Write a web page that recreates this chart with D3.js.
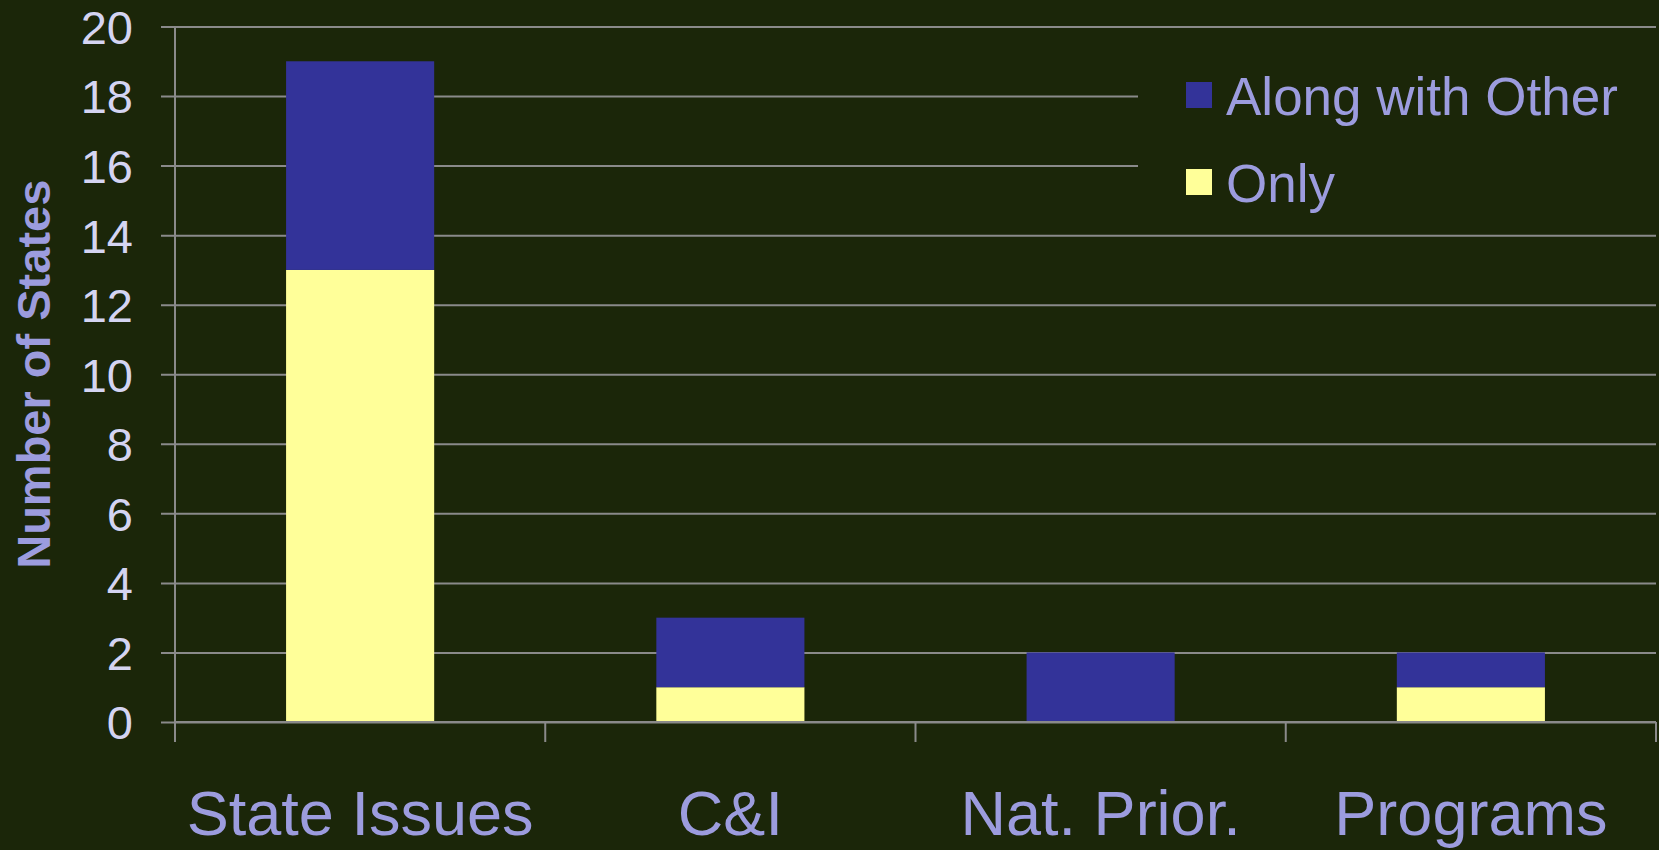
<!DOCTYPE html>
<html>
<head>
<meta charset="utf-8">
<script src="https://cdn.jsdelivr.net/npm/d3@7"></script>
<style>
  html, body { margin: 0; padding: 0; background: #1b2609; }
  svg { display: block; font-family: "Liberation Sans", Arial, sans-serif; }
</style>
</head>
<body>
<svg id="chart"></svg>
<script>
const categories = ["State Issues", "C&I", "Nat. Prior.", "Programs"];
const onlyValues = [13, 1, 0, 1];
const alongValues = [6, 2, 2, 1];
const seriesNames = ["Only", "Along with Other"];
const yTicks = [0, 2, 4, 6, 8, 10, 12, 14, 16, 18, 20];

const W = 1659, H = 850;
const margin = { top: 26.5, right: 3, bottom: 128, left: 175 };
const width = W - margin.left - margin.right;
const height = H - margin.top - margin.bottom;

const colors = { "Only": "#ffff99", "Along with Other": "#333399" };

const svg = d3.select("#chart")
    .attr("width", W)
    .attr("height", H);

svg.append("rect").attr("width", W).attr("height", H).attr("fill", "#1b2609");

const g = svg.append("g")
    .attr("transform", `translate(${margin.left},${margin.top})`);

const data = categories.map((c, i) => ({ cat: c, "Only": onlyValues[i], "Along with Other": alongValues[i] }));
const stacked = d3.stack().keys(seriesNames)(data);

const x = d3.scaleBand()
    .domain(categories)
    .range([0, width])
    .paddingInner(0.6)
    .paddingOuter(0.3);

const y = d3.scaleLinear()
    .domain([0, 20])
    .range([height, 0]);

// gridlines, running out 14px past the y axis
g.append("g")
    .attr("transform", `translate(${width},0)`)
    .call(d3.axisLeft(y).tickValues(yTicks).tickSize(width + 14).tickFormat(""))
    .call(ax => ax.select(".domain").remove())
    .selectAll("line")
    .attr("stroke", "#8a8a8a")
    .attr("stroke-width", 2);

// tick labels
g.append("g")
    .call(d3.axisLeft(y).tickValues(yTicks).tickSize(0).tickPadding(42))
    .call(ax => ax.select(".domain").remove())
    .selectAll("text")
    .attr("fill", "#d4d4f2")
    .style("font-size", "47px")
    .attr("dy", "0.36em");

// bars
g.selectAll(".series")
    .data(stacked)
    .join("g")
    .attr("fill", d => colors[d.key])
    .selectAll("rect")
    .data(d => d)
    .join("rect")
    .attr("x", d => x(d.data.cat))
    .attr("y", d => y(d[1]))
    .attr("height", d => y(d[0]) - y(d[1]))
    .attr("width", x.bandwidth());

// y axis line, extended down to category tick length
g.append("line")
    .attr("x1", 0).attr("x2", 0)
    .attr("y1", 0).attr("y2", height + 20)
    .attr("stroke", "#8a8a8a").attr("stroke-width", 2);

// x axis: category boundary ticks
const bounds = d3.range(categories.length + 1).map(i => i * width / categories.length);
g.append("line")
    .attr("x1", 0).attr("x2", width)
    .attr("y1", height).attr("y2", height)
    .attr("stroke", "#8a8a8a").attr("stroke-width", 2);
g.selectAll(".ctick")
    .data(bounds)
    .join("line")
    .attr("x1", d => d).attr("x2", d => d)
    .attr("y1", height).attr("y2", height + 20)
    .attr("stroke", "#8a8a8a").attr("stroke-width", 2);

// category labels
g.append("g")
    .attr("transform", `translate(0,${height})`)
    .call(d3.axisBottom(x).tickSize(0).tickPadding(0))
    .call(ax => ax.select(".domain").remove())
    .selectAll("text")
    .attr("fill", "#9c9cde")
    .style("font-size", "63px")
    .attr("dy", 0)
    .attr("y", 113);

// y axis title
svg.append("text")
    .attr("transform", `translate(50,${margin.top + height / 2}) rotate(-90)`)
    .attr("text-anchor", "middle")
    .attr("fill", "#9c9cde")
    .style("font-size", "47px")
    .style("font-weight", "bold")
    .text("Number of States");

// legend
const legend = svg.append("g").attr("transform", "translate(1138,50)");
legend.append("rect")
    .attr("width", 521).attr("height", 170)
    .attr("fill", "#1b2609");

const legendItems = seriesNames.slice().reverse();
legendItems.forEach((name, i) => {
    const row = legend.append("g").attr("transform", `translate(48,${32 + i * 87})`);
    row.append("rect")
        .attr("width", 26).attr("height", 26)
        .attr("fill", colors[name]);
    row.append("text")
        .attr("x", 40)
        .attr("y", 33)
        .attr("fill", "#9c9cde")
        .style("font-size", "53px")
        .text(name);
});
</script>
</body>
</html>
